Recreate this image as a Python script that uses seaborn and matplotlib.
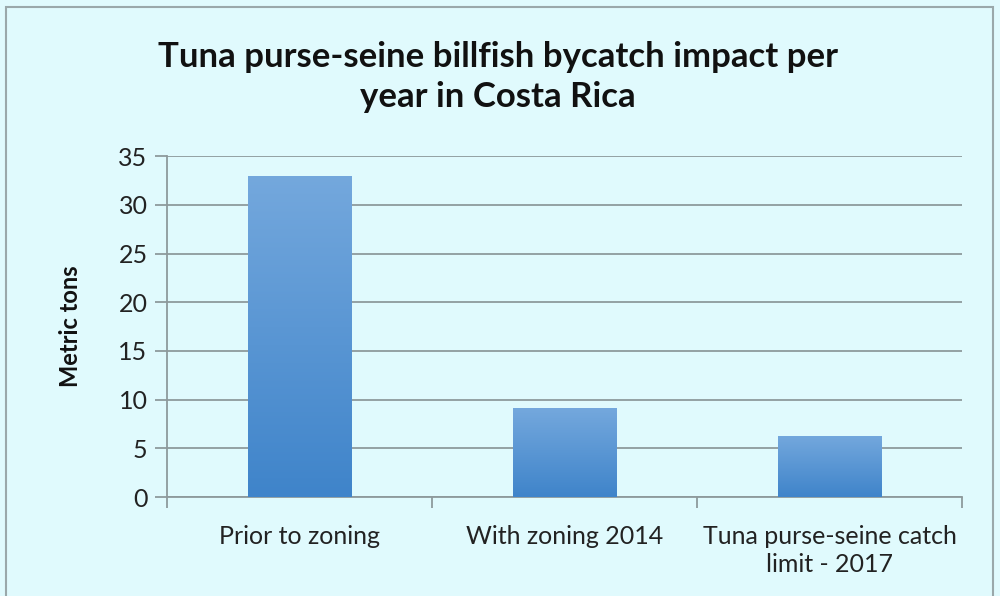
import numpy as np
import pandas as pd
import matplotlib
matplotlib.use('Agg')
import matplotlib.pyplot as plt
import seaborn as sns

# data
categories = ['Prior to zoning', 'With zoning 2014', 'Tuna purse-seine catch\nlimit - 2017']
tons = [33, 9.1, 6.3]
y_ticks = [0, 5, 10, 15, 20, 25, 30, 35]

df = pd.DataFrame({'category': categories, 'tons': tons})

sns.set_theme(style='white')
plt.rcParams['font.family'] = ['Lato', 'DejaVu Sans']

bg = '#E0FAFD'
grid_col = '#8E9A9C'

fig = plt.figure(figsize=(10, 5.96), dpi=100, facecolor=bg)
ax = fig.add_axes([0.167, 0.166, 0.795, 0.572])
ax.set_facecolor(bg)

sns.barplot(data=df, x='category', y='tons', color='#4F8FD3', width=0.39, ax=ax, zorder=3)

# vertical gradient on each bar
grad = np.linspace(0, 1, 256).reshape(-1, 1)
cmap = matplotlib.colors.LinearSegmentedColormap.from_list('bar', ['#3F84CA', '#74A8DD'])
for p in ax.patches:
    x0, y0 = p.get_x(), p.get_y()
    w, h = p.get_width(), p.get_height()
    im = ax.imshow(grad, cmap=cmap, origin='lower', aspect='auto',
                   extent=[x0, x0 + w, y0, y0 + h], zorder=4)
    im.set_clip_path(p)
    p.set_edgecolor('none')

ax.set_xlim(-0.5, 2.5)
ax.set_ylim(0, 35)
ax.set_yticks(y_ticks)
ax.yaxis.grid(True, color=grid_col, linewidth=1.3)
ax.set_axisbelow(True)

for s in ['top', 'right']:
    ax.spines[s].set_visible(False)
for s in ['left', 'bottom']:
    ax.spines[s].set_color(grid_col)
    ax.spines[s].set_linewidth(1.3)

ax.tick_params(axis='y', which='major', length=9, width=1.3, color=grid_col,
               labelsize=18, labelcolor='#222222', pad=5, left=True)
ax.set_xticks([0, 1, 2])
ax.set_xticklabels(categories, linespacing=1.25)
ax.set_xticks([-0.5, 0.5, 1.5, 2.5], minor=True)
ax.tick_params(axis='x', which='major', length=0, labelsize=18, labelcolor='#222222', pad=20)
ax.tick_params(axis='x', which='minor', length=8, width=1.3, color=grid_col, bottom=True)

ax.set_xlabel('')
ax.set_ylabel('Metric tons', fontsize=17, fontweight='bold', color='#111111', labelpad=26)

fig.text(0.498, 0.871, 'Tuna purse-seine billfish bycatch impact per\nyear in Costa Rica',
         ha='center', va='center', fontsize=25, fontweight='bold', color='#111111',
         linespacing=1.3)

# outer frame
frame = plt.Rectangle((0.006, -0.05), 0.987, 1.038, transform=fig.transFigure,
                      fill=False, edgecolor='#9AA8AA', linewidth=1.5)
fig.patches.append(frame)

fig.savefig('out.png', dpi=100, facecolor=bg)
